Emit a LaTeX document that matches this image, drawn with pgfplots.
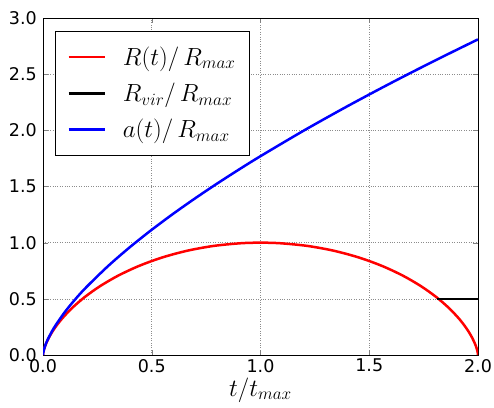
\documentclass[border=0pt]{standalone}
\usepackage{fontspec}
\setmainfont{DejaVu Sans}
\usepackage{pgfplots}
\usetikzlibrary{calc}
\pgfplotsset{compat=1.18}
\begin{document}
\fontsize{15bp}{18bp}\selectfont
\begin{tikzpicture}
\begin{axis}[
  name=ax,
  width=435bp, height=337bp, scale only axis,
  xmin=0, xmax=2, ymin=0, ymax=3,
  xtick={0,0.5,...,2}, ytick={0,0.5,...,3},
  /pgf/number format/fixed, /pgf/number format/fixed zerofill, /pgf/number format/precision=1,
  /pgf/number format/assume math mode=true,
  tick label style={font=\fontsize{17.5bp}{20bp}\selectfont},
  xticklabel style={yshift=1bp},
  yticklabel style={xshift=-1bp},
  tick align=inside, major tick length=5bp,
  axis line style={line width=0.8bp},
  grid=major, grid style={black!45, dotted, line width=0.6bp},
  xlabel={$t/t_{max}$}, xlabel style={font=\fontsize{24bp}{28bp}\selectfont, yshift=5bp},
  legend style={font=\fontsize{25bp}{30bp}\selectfont, draw=black, line width=0.8bp, row sep=11.5bp, inner xsep=12bp, inner ysep=13bp, at={(0.0276,0.961)}, anchor=north west, cells={anchor=west},
    /tikz/every odd column/.append style={column sep=15bp}},
  legend image code/.code={\draw[#1] (2bp,0bp) -- (38bp,0bp);},
]
\addplot[red, smooth, line width=2.5bp] coordinates {
(0,0) (0.0000530,0.002498) (0.000424,0.009967) (0.001426,0.022332) (0.003368,0.039470)
(0.006549,0.061209) (0.011255,0.087332) (0.026306,0.151647) (0.050462,0.229849)
(0.085295,0.318821) (0.131955,0.415016) (0.191121,0.514600) (0.262971,0.613601)
(0.347181,0.708073) (0.442929,0.794251) (0.548937,0.868697) (0.663516,0.928444)
(0.784637,0.971111) (0.910009,0.994996) (1,1)
(1.089991,0.994996) (1.215363,0.971111) (1.336484,0.928444) (1.451063,0.868697)
(1.557071,0.794251) (1.652819,0.708073) (1.737029,0.613601) (1.808879,0.514600)
(1.868045,0.415016) (1.914705,0.318821) (1.949538,0.229849) (1.973694,0.151647)
(1.988745,0.087332) (1.993451,0.061209) (1.996632,0.039470) (1.998574,0.022332)
(1.999576,0.009967) (1.999947,0.002498) (2,0)
};
\addlegendentry{$R(t)/\,R_{max}$}
\addplot[black, line width=2.5bp] coordinates {(1.81,0.5) (2.0,0.5)};
\addlegendentry{$R_{vir}/\,R_{max}$}
\addplot[blue, smooth, line width=2.5bp] coordinates {
(0,0) (0.001,0.0177) (0.005,0.05175) (0.01,0.08216) (0.02,0.13041) (0.05,0.24022)
(0.1,0.38133) (0.15,0.49969) (0.2,0.60534) (0.3,0.79321) (0.4,0.96090) (0.5,1.11503)
(0.6,1.25914) (0.7,1.39540) (0.8,1.52533) (0.9,1.64994) (1.0,1.770) (1.2,1.99875)
(1.4,2.21510) (1.6,2.42132) (1.8,2.61912) (2.0,2.80970)
};
\addlegendentry{$a(t)/\,R_{max}$}
\end{axis}
\pgfresetboundingbox
\path[use as bounding box] ($(ax.south west)+(-43bp,-53bp)$) rectangle ($(ax.north east)+(16bp,18bp)$);
\end{tikzpicture}
\end{document}
